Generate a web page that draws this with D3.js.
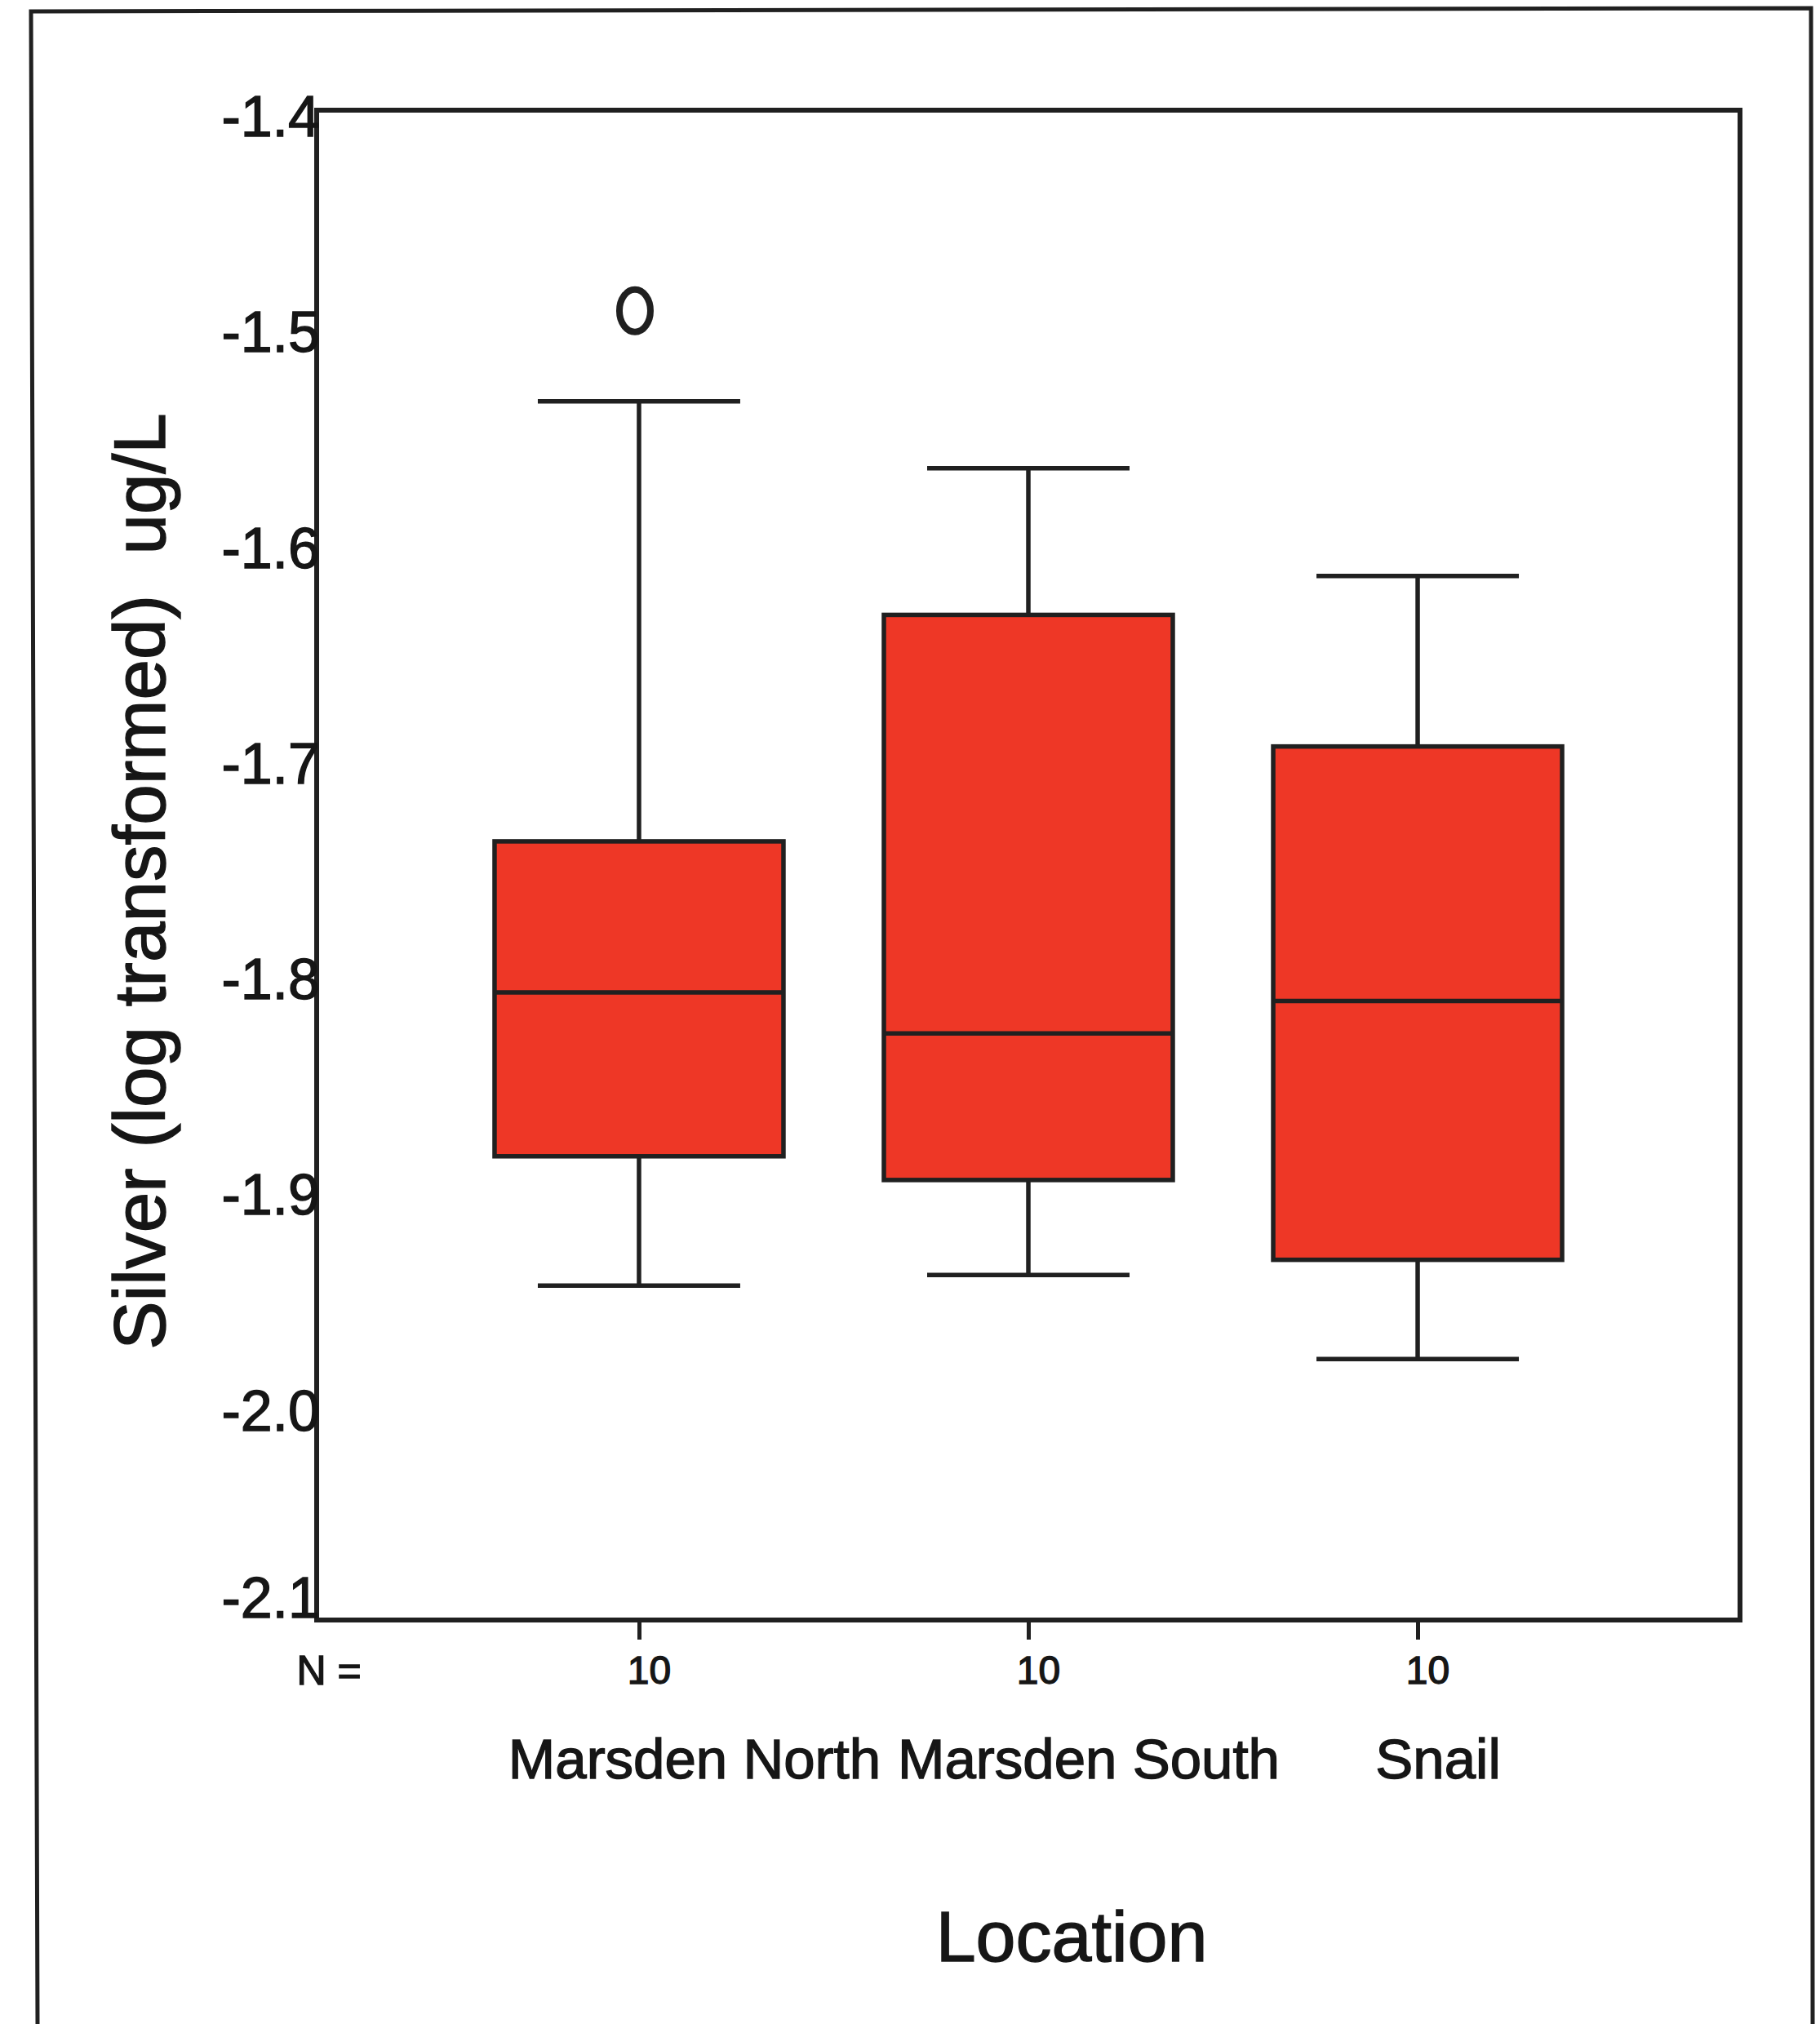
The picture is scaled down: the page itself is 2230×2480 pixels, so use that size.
<!DOCTYPE html>
<html>
<head>
<meta charset="utf-8">
<script src="https://cdn.jsdelivr.net/npm/d3@7"></script>
<style>
  html, body { margin: 0; padding: 0; background: #ffffff; }
  svg { display: block; }
  text { font-family: "Liberation Sans", Arial, sans-serif; fill: #161616; stroke: #161616; stroke-width: 1.4px; }
</style>
</head>
<body>
<svg id="chart" width="2230" height="2480"></svg>
<script>
// ---- Data ----
const categories = ["Marsden North", "Marsden South", "Snail"];
const counts = [10, 10, 10];
const whiskerHigh = [-1.535, -1.566, -1.616];
const q3 = [-1.739, -1.634, -1.695];
const medians = [-1.809, -1.828, -1.813];
const q1 = [-1.885, -1.896, -1.933];
const whiskerLow = [-1.945, -1.940, -1.979];
const outliers = [{ cat: "Marsden North", value: -1.493 }];
const yTicks = [-1.4, -1.5, -1.6, -1.7, -1.8, -1.9, -2.0, -2.1];
const yTickLabels = ["-1.4", "-1.5", "-1.6", "-1.7", "-1.8", "-1.9", "-2.0", "-2.1"];
const yDomain = [-2.1, -1.4];

// ---- Layout ----
const W = 2230, H = 2480;
const plot = { left: 388, top: 135, right: 2132, bottom: 1985 };
const red = "#ee3726";
const ink = "#202020";

const svg = d3.select("#chart");
svg.append("rect").attr("width", W).attr("height", H).attr("fill", "#fff");

// outer frame (left, top, right)
svg.append("path")
  .attr("d", `M46,2480 L38,14 L2219,10 L2221,2480`)
  .attr("fill", "none").attr("stroke", ink).attr("stroke-width", 5);

const x = d3.scalePoint().domain(categories)
  .range([plot.left, plot.right]).padding(0.828);
const y = d3.scaleLinear().domain(yDomain).range([plot.bottom, plot.top]);

const boxW = 354, capW = 248, lw = 5.5;

const g = svg.append("g");

categories.forEach((c, i) => {
  const cx = x(c);
  g.append("line").attr("x1", cx).attr("x2", cx)
    .attr("y1", y(whiskerHigh[i])).attr("y2", y(q3[i]))
    .attr("stroke", ink).attr("stroke-width", lw);
  g.append("line").attr("x1", cx).attr("x2", cx)
    .attr("y1", y(q1[i])).attr("y2", y(whiskerLow[i]))
    .attr("stroke", ink).attr("stroke-width", lw);
  [whiskerHigh[i], whiskerLow[i]].forEach(v => {
    g.append("line").attr("x1", cx - capW / 2).attr("x2", cx + capW / 2)
      .attr("y1", y(v)).attr("y2", y(v))
      .attr("stroke", ink).attr("stroke-width", lw);
  });
  g.append("rect")
    .attr("x", cx - boxW / 2).attr("width", boxW)
    .attr("y", y(q3[i])).attr("height", y(q1[i]) - y(q3[i]))
    .attr("fill", red).attr("stroke", ink).attr("stroke-width", lw);
  g.append("line").attr("x1", cx - boxW / 2).attr("x2", cx + boxW / 2)
    .attr("y1", y(medians[i])).attr("y2", y(medians[i]))
    .attr("stroke", ink).attr("stroke-width", lw);
});

// outliers
g.selectAll("ellipse.out").data(outliers).enter().append("ellipse")
  .attr("class", "out")
  .attr("cx", d => x(d.cat) - 5).attr("cy", d => y(d.value))
  .attr("rx", 19).attr("ry", 26)
  .attr("fill", "none").attr("stroke", ink).attr("stroke-width", 8);

// plot frame
svg.append("rect")
  .attr("x", plot.left).attr("y", plot.top)
  .attr("width", plot.right - plot.left).attr("height", plot.bottom - plot.top)
  .attr("fill", "none").attr("stroke", ink).attr("stroke-width", 6);

// y axis labels (no tick marks)
const yAxis = d3.axisLeft(y).tickValues(yTicks).tickSize(0).tickPadding(0)
  .tickFormat((d, i) => yTickLabels[i]);
const ya = svg.append("g").attr("transform", `translate(${plot.left + 4},0)`).call(yAxis);
ya.select(".domain").remove();
ya.selectAll("text")
  .attr("dy", (d, i) => i === yTicks.length - 1 ? "-0.05em" : "0.45em")
  .style("font-size", "70px")
  .style("font-family", '"Liberation Sans", Arial, sans-serif')
  .attr("fill", "#161616");

// x axis ticks with N counts
const xAxis = d3.axisBottom(x).tickSize(24).tickPadding(0).tickFormat((d, i) => counts[i]);
const xa = svg.append("g").attr("transform", `translate(0,${plot.bottom})`).call(xAxis);
xa.select(".domain").remove();
xa.selectAll(".tick line").attr("stroke", ink).attr("stroke-width", 5);
xa.selectAll(".tick text")
  .attr("y", 0).attr("dy", 0)
  .attr("transform", "translate(12,78)")
  .style("font-size", "48px")
  .style("font-family", '"Liberation Sans", Arial, sans-serif')
  .attr("fill", "#161616");

svg.append("text")
  .attr("x", 403).attr("y", 2064)
  .attr("text-anchor", "middle")
  .style("font-size", "50px")
  .text("N =");

// category labels
const labelShift = [68, 74, 25];
svg.selectAll("text.cat").data(categories).enter().append("text")
  .attr("class", "cat")
  .attr("x", (d, i) => x(d) + labelShift[i])
  .attr("y", 2179)
  .attr("text-anchor", "middle")
  .style("font-size", "69px")
  .text(d => d);

// axis titles
svg.append("text")
  .attr("x", 1313).attr("y", 2403)
  .attr("text-anchor", "middle")
  .style("font-size", "88px")
  .text("Location");

svg.append("text")
  .attr("transform", `translate(202,1080) rotate(-90)`)
  .attr("text-anchor", "middle")
  .style("font-size", "89px")
  .style("white-space", "pre")
  .attr("xml:space", "preserve")
  .text("Silver (log transformed)  ug/L");
</script>
</body>
</html>
